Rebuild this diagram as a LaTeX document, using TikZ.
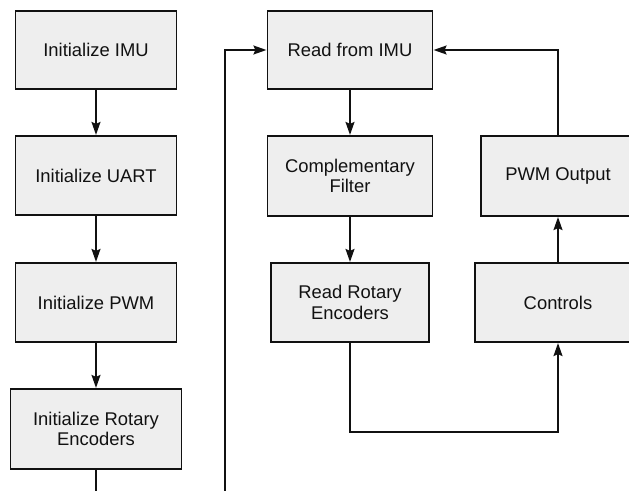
\documentclass[tikz,border=0pt]{standalone}
\usepackage{fontspec}
\setmainfont{Liberation Sans}
\usetikzlibrary{arrows.meta}
\definecolor{boxfill}{HTML}{EEEEEE}
\definecolor{ink}{HTML}{111111}
\tikzset{
  blk/.style={draw=ink, fill=boxfill, line width=1.2pt, inner sep=0pt, align=center,
    text=ink, font=\fontsize{18.4}{20.5}\selectfont},
  conn/.style={draw=ink, line width=1.5pt},
  arr/.style={conn, -{Stealth[length=13pt,width=9pt,inset=2pt]}, shorten >=0.5pt}
}
\begin{document}
\begin{tikzpicture}[x=1pt,y=-1pt]
\clip (0,0) rectangle (629,490);
\fill[white] (0,0) rectangle (629,490);
% left column
\node[blk, minimum width=161pt, minimum height=78pt] (imu) at (96,50) {Initialize IMU};
\node[blk, minimum width=161pt, minimum height=79pt] (uart) at (96,175.5) {Initialize UART};
\node[blk, minimum width=161pt, minimum height=79pt] (pwm) at (96,302.5) {Initialize PWM};
\node[blk, minimum width=171pt, minimum height=80pt] (enc) at (96,429) {Initialize Rotary\\Encoders};
% middle column
\node[blk, minimum width=165pt, minimum height=78pt] (read) at (350,50) {Read from IMU};
\node[blk, minimum width=165pt, minimum height=80pt] (filt) at (350,176) {Complementary\\Filter};
\node[blk, minimum width=158pt, minimum height=79pt] (renc) at (350,302.5) {Read Rotary\\Encoders};
% right column
\node[blk, minimum width=154pt, minimum height=80pt] (pwmout) at (558,176) {PWM Output};
\node[blk, minimum width=166pt, minimum height=79pt] (ctrl) at (558,302.5) {Controls};
% free ends
\coordinate (endL) at (96,492);
\coordinate (startM) at (225,492);
\coordinate (low) at (350,432);
% connectors
\draw[arr] (imu) -- (uart);
\draw[arr] (uart) -- (pwm);
\draw[arr] (pwm) -- (enc);
\draw[conn] (enc.south) -- (endL);
\draw[arr] (startM) |- (read.west);
\draw[arr] (read) -- (filt);
\draw[arr] (filt) -- (renc);
\draw[arr] (renc.south) -- (low) -| (ctrl.south);
\draw[arr] (ctrl) -- (pwmout);
\draw[arr] (pwmout.north) |- (read.east);
\end{tikzpicture}
\end{document}
